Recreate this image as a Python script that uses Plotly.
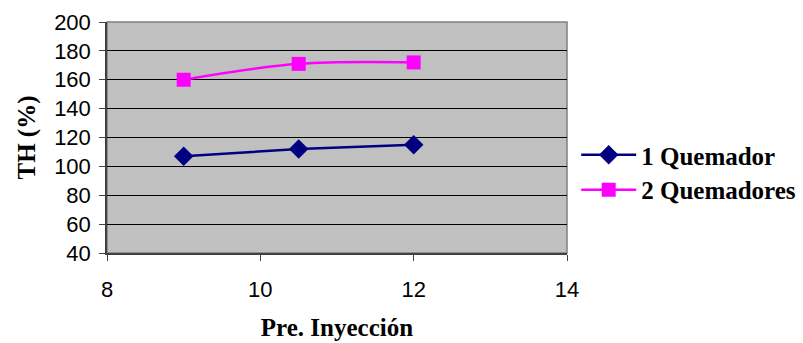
import plotly.graph_objects as go

x_vals = [9, 10.5, 12]
q1 = [107, 112, 115]
q2 = [160, 171, 172]
names = ["1 Quemador", "2 Quemadores"]

fig = go.Figure()
fig.add_trace(go.Scatter(x=x_vals, y=q1, name="<b>" + names[0] + "</b>", mode="lines+markers",
                         line=dict(color="#000080", width=2.5),
                         marker=dict(symbol="diamond", size=15, color="#000080"),
                         legend="legend", showlegend=True))
fig.add_trace(go.Scatter(x=x_vals, y=q2, name="<b>" + names[1] + "</b>", mode="lines+markers",
                         line=dict(color="#FF00FF", width=2.5, shape="spline"),
                         marker=dict(symbol="square", size=14, color="#FF00FF"),
                         legend="legend2", showlegend=True))

legfont = dict(family="Liberation Serif", size=25, color="black")
fig.update_layout(
    width=803, height=343,
    showlegend=True,
    margin=dict(l=107, r=236, t=22, b=90, autoexpand=False),
    paper_bgcolor="white", plot_bgcolor="#C0C0C0",
    legend=dict(x=1.02, y=0.424, xanchor="left", yanchor="middle", font=legfont,
                bgcolor="rgba(0,0,0,0)", itemwidth=55),
    legend2=dict(x=1.02, y=0.273, xanchor="left", yanchor="middle", font=legfont,
                 bgcolor="rgba(0,0,0,0)", itemwidth=55),
    xaxis=dict(range=[8, 14], tickvals=[8, 10, 12, 14], showgrid=False,
               showline=True, linecolor="#404040", linewidth=1.5, mirror=False,
               ticks="outside", ticklen=6, tickcolor="#404040",
               ticklabelstandoff=10,
               tickfont=dict(family="Liberation Sans", size=22, color="black"),
               title=dict(text="<b>Pre. Inyección</b>", standoff=17,
                          font=dict(family="Liberation Serif", size=25, color="black")),
               zeroline=False),
    yaxis=dict(range=[40, 200], tickvals=list(range(40, 201, 20)), showgrid=True,
               gridcolor="black", gridwidth=1,
               showline=True, linecolor="#404040", linewidth=1.5,
               ticks="outside", ticklen=6, tickcolor="#404040",
               ticklabelstandoff=4,
               tickfont=dict(family="Liberation Sans", size=22, color="black"),
               title=dict(text="<b>TH (%)</b>", standoff=11,
                          font=dict(family="Liberation Serif", size=25, color="black")),
               zeroline=False),
)
fig.add_shape(type="rect", xref="paper", yref="paper", x0=0, y0=0, x1=1, y1=1,
              line=dict(color="#808080", width=1.5), layer="below")

fig.write_html("out.html")
